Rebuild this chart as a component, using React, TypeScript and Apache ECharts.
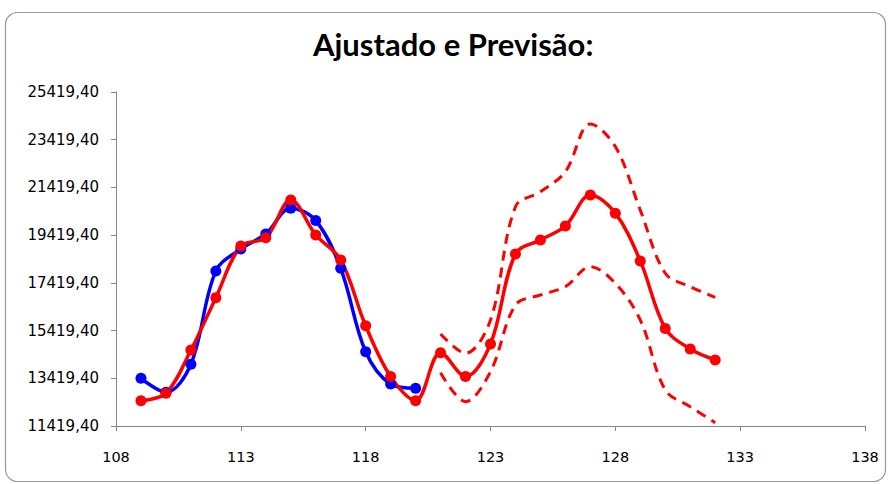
import React, { useEffect, useRef } from "react";
import * as echarts from "echarts";

const TITLE = "Ajustado e Previsão:";

const fitX = [109, 110, 111, 112, 113, 114, 115, 116, 117, 118, 119, 120];
const actualY = [13420, 12830, 14010, 17920, 18840, 19470, 20550, 20030, 18030, 14530, 13180, 13000];
const fittedY = [12480, 12790, 14600, 16800, 18960, 19310, 20890, 19430, 18380, 15620, 13490, 12480];

const fcX = [121, 122, 123, 124, 125, 126, 127, 128, 129, 130, 131, 132];
const forecastY = [14490, 13490, 14860, 18630, 19220, 19800, 21100, 20340, 18340, 15510, 14650, 14190];
const upperY = [15280, 14470, 15860, 20610, 21240, 22080, 24080, 23130, 20470, 17820, 17260, 16810];
const lowerY = [13650, 12440, 13700, 16490, 16910, 17260, 18100, 17400, 15860, 12930, 12230, 11560];

const yTicks = [11419.4, 13419.4, 15419.4, 17419.4, 19419.4, 21419.4, 23419.4, 25419.4];
const xTicks = [108, 113, 118, 123, 128, 133, 138];

const zip = (xs: number[], ys: number[]) => xs.map((x, i) => [x, ys[i]]);

export default function App() {
  const ref = useRef<HTMLDivElement>(null);
  useEffect(() => {
    if (!ref.current) return;
    const chart = echarts.init(ref.current, undefined, { renderer: "svg" });
    const axisLine = { show: true, lineStyle: { color: "#868686", width: 1 } };
    const red = "#ff0000";
    chart.setOption({
      animation: false,
      backgroundColor: "#fff",
      title: {
        text: TITLE,
        left: 313,
        top: 28,
        padding: 0,
        textStyle: { fontFamily: "Lato", fontWeight: "bold", fontSize: 31, color: "#000" },
      },
      graphic: [
        {
          type: "rect",
          shape: { x: 5.5, y: 12.5, width: 880, height: 469, r: 12 },
          style: { fill: "none", stroke: "#9a9a9a", lineWidth: 1.2 },
          silent: true,
          z: -1,
        },
      ],
      grid: { left: 116, right: 25, top: 92, bottom: 58, containLabel: false },
      xAxis: {
        type: "value",
        min: 108,
        max: 138,
        axisLine,
        axisTick: { show: true, length: 5, lineStyle: { color: "#868686" }, customValues: xTicks },
        axisLabel: {
          fontFamily: "DejaVu Sans",
          fontSize: 14.5,
          color: "#000",
          margin: 23,
          customValues: xTicks,
          formatter: (v: number) => String(v),
        },
        splitLine: { show: false },
      },
      yAxis: {
        type: "value",
        min: 11419.4,
        max: 25419.4,
        axisLine,
        axisTick: { show: true, length: 5, lineStyle: { color: "#868686" }, customValues: yTicks },
        axisLabel: {
          fontFamily: "DejaVu Sans",
          fontSize: 15,
          color: "#000",
          margin: 17,
          customValues: yTicks,
          formatter: (v: number) => v.toFixed(2).replace(".", ","),
        },
        splitLine: { show: false },
      },
      series: [
        {
          name: "Real",
          type: "line",
          data: zip(fitX, actualY),
          smooth: 0.35,
          symbol: "circle",
          symbolSize: 11,
          lineStyle: { color: "#0000ff", width: 3.5 },
          itemStyle: { color: "#0000ff" },
        },
        {
          name: "Ajustado",
          type: "line",
          data: zip(fitX, fittedY).concat(zip(fcX, forecastY)),
          smooth: 0.35,
          symbol: "circle",
          symbolSize: 11,
          lineStyle: { color: red, width: 3.5 },
          itemStyle: { color: red },
        },
        {
          name: "Superior",
          type: "line",
          data: zip(fcX, upperY),
          smooth: 0.35,
          showSymbol: false,
          lineStyle: { color: red, width: 3, type: [10, 7] },
        },
        {
          name: "Inferior",
          type: "line",
          data: zip(fcX, lowerY),
          smooth: 0.35,
          showSymbol: false,
          lineStyle: { color: red, width: 3, type: [10, 7] },
        },
      ],
    });
    return () => chart.dispose();
  }, []);
  return <div ref={ref} style={{ width: 890, height: 484, position: "absolute", left: 0, top: 0 }} />;
}
